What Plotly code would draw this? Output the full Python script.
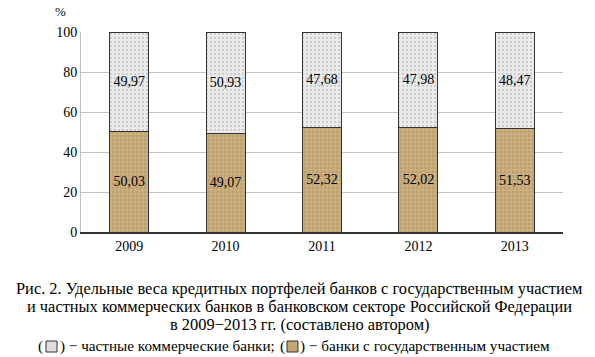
import plotly.graph_objects as go

years = ["2009", "2010", "2011", "2012", "2013"]
state_banks = [50.03, 49.07, 52.32, 52.02, 51.53]
private_banks = [49.97, 50.93, 47.68, 47.98, 48.47]
y_ticks = [0, 20, 40, 60, 80, 100]

caption_lines = [
    "Рис. 2. Удельные веса кредитных портфелей банков с государственным участием",
    "и частных коммерческих банков в банковском секторе Российской Федерации",
    "в 2009−2013 гг. (составлено автором)",
]
legend_private = "частные коммерческие банки"
legend_state = "банки с государственным участием"

def fmt(v):
    return f"{v:.2f}".replace(".", ",")

FONT = "Liberation Serif, Times New Roman, serif"
BROWN = dict(shape="+", fgcolor="#f0e4c6", bgcolor="#bfa06c", size=4, solidity=0.3)
GRAY = dict(shape=".", fgcolor="#a9a9a9", bgcolor="#ebebeb", size=4, solidity=0.25)

fig = go.Figure()
fig.add_trace(go.Bar(
    x=years, y=state_banks, name=legend_state,
    text=[fmt(v) for v in state_banks], textposition="inside", insidetextanchor="middle",
    textfont=dict(family=FONT, size=14, color="black"),
    marker=dict(color="#c4a672", line=dict(color="#333333", width=1), pattern=BROWN),
    width=0.405,
))
fig.add_trace(go.Bar(
    x=years, y=private_banks, name=legend_private,
    text=[fmt(v) for v in private_banks], textposition="inside", insidetextanchor="middle",
    textfont=dict(family=FONT, size=14, color="black"),
    marker=dict(color="#e6e6e6", line=dict(color="#333333", width=1), pattern=GRAY),
    width=0.405,
))

fig.update_layout(
    barmode="stack",
    width=595, height=357,
    margin=dict(l=81, r=32, t=32, b=125),
    paper_bgcolor="white", plot_bgcolor="white",
    showlegend=False,
    font=dict(family=FONT, size=14, color="black"),
    xaxis=dict(showline=True, linecolor="#333333", linewidth=1.5, ticks="",
               tickfont=dict(family=FONT, size=14), showgrid=False),
    yaxis=dict(range=[0, 100], tickvals=y_ticks, showgrid=True, gridcolor="#c0c0c0",
               gridwidth=1, showline=True, linecolor="#c0c0c0", zeroline=False,
               tickfont=dict(family=FONT, size=14), ticks="", ticklen=0),
)

# paper-coordinate helpers (plot area: x 81..563 px, y 32..232 px)
def px(xp):
    return (xp - 81) / 482.0

def py(yp):
    return (232 - yp) / 200.0

fig.add_annotation(xref="paper", yref="paper", x=px(60), y=py(12), xanchor="center",
                   yanchor="middle", text="%", showarrow=False,
                   font=dict(family=FONT, size=13))

for line, yc in zip(caption_lines, [288, 306, 324]):
    fig.add_annotation(xref="paper", yref="paper", x=px(299), y=py(yc), xanchor="center",
                       yanchor="middle", text=line, showarrow=False,
                       font=dict(family=FONT, size=16.4, color="black"))

LEG_Y = 346
LEG_SIZE = 15.2
fig.add_annotation(xref="paper", yref="paper", x=px(45), y=py(LEG_Y), xanchor="right",
                   yanchor="middle", text="(", showarrow=False,
                   font=dict(family=FONT, size=LEG_SIZE))
fig.add_annotation(xref="paper", yref="paper", x=px(58), y=py(LEG_Y), xanchor="left",
                   yanchor="middle", text=") − " + legend_private + ";", showarrow=False,
                   font=dict(family=FONT, size=LEG_SIZE))
fig.add_annotation(xref="paper", yref="paper", x=px(287), y=py(LEG_Y), xanchor="right",
                   yanchor="middle", text="(", showarrow=False,
                   font=dict(family=FONT, size=LEG_SIZE))
fig.add_annotation(xref="paper", yref="paper", x=px(298), y=py(LEG_Y), xanchor="left",
                   yanchor="middle", text=") − " + legend_state, showarrow=False,
                   font=dict(family=FONT, size=LEG_SIZE))

fig.add_shape(type="rect", xref="paper", yref="paper", x0=px(46), x1=px(57),
              y0=py(341), y1=py(352), line=dict(color="#333333", width=1),
              fillcolor="#dedede")
fig.add_shape(type="rect", xref="paper", yref="paper", x0=px(287), x1=px(298),
              y0=py(341), y1=py(352), line=dict(color="#333333", width=1),
              fillcolor="#c4a672")

fig.write_html("out.html", config={"displayModeBar": False},
               post_script="document.body.style.margin='0';")
